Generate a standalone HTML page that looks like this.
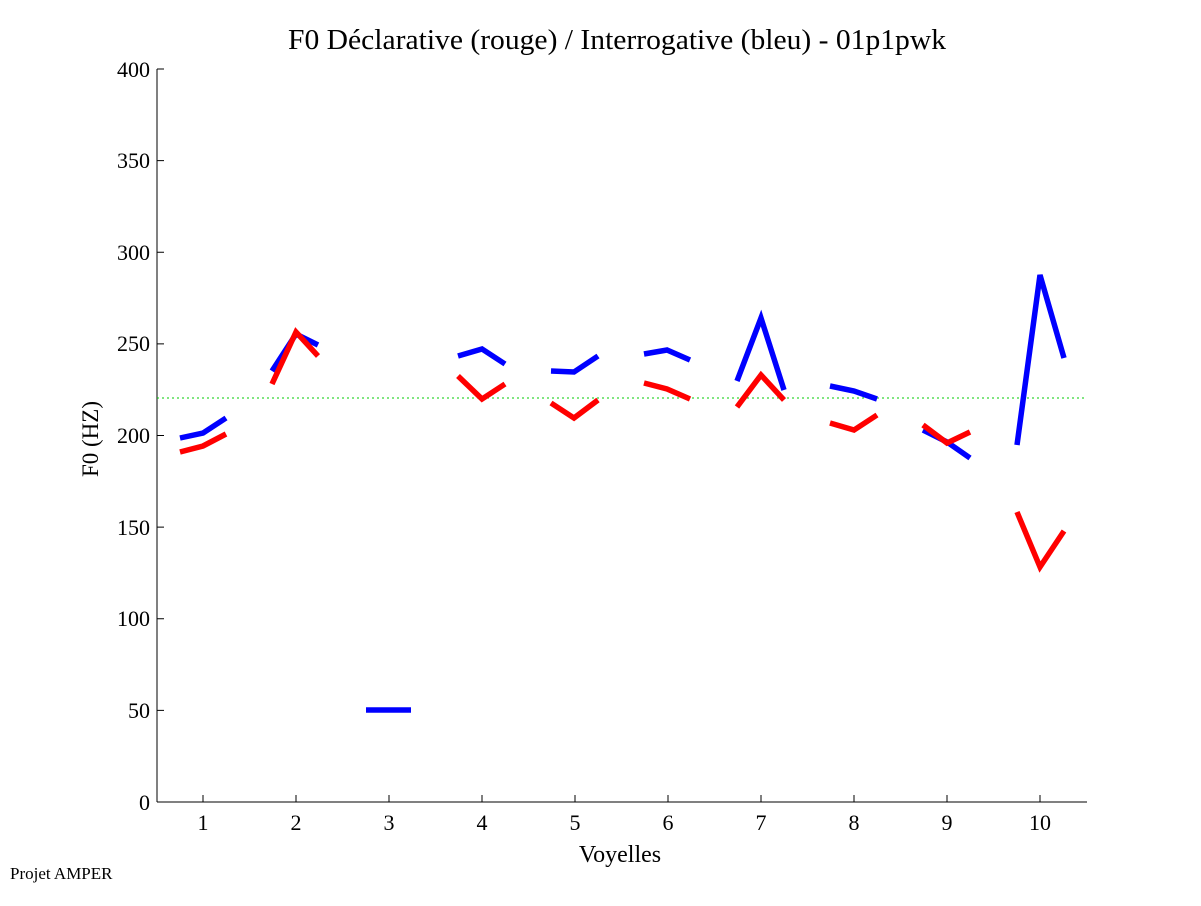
<!DOCTYPE html>
<html><head><meta charset="utf-8"><style>body{margin:0;background:#fff}</style></head><body>
<svg width="1201" height="901" xmlns="http://www.w3.org/2000/svg" font-family="Liberation Serif, serif">
<rect width="1201" height="901" fill="#fff"/>
<text x="617" y="49" font-size="28" text-anchor="middle" textLength="658" lengthAdjust="spacingAndGlyphs">F0 Déclarative (rouge) / Interrogative (bleu) - 01p1pwk</text>
<g stroke="#000" stroke-width="1" fill="none">
<line x1="157" y1="69" x2="157" y2="802"/>
<line x1="157" y1="802" x2="1087" y2="802"/>
<path d="M157 802h7M157 710.4h7M157 618.8h7M157 527.1h7M157 435.5h7M157 343.9h7M157 252.3h7M157 160.6h7M157 69h7"/>
<path d="M203 802v-7M296 802v-7M389 802v-7M482 802v-7M575 802v-7M668 802v-7M761 802v-7M854 802v-7M947 802v-7M1040 802v-7"/>
</g>
<g font-size="22" text-anchor="end">
<text x="150" y="810">0</text><text x="150" y="718">50</text><text x="150" y="626">100</text><text x="150" y="535">150</text><text x="150" y="443">200</text><text x="150" y="351">250</text><text x="150" y="260">300</text><text x="150" y="168">350</text><text x="150" y="77">400</text>
</g>
<g font-size="22" text-anchor="middle">
<text x="203" y="830">1</text><text x="296" y="830">2</text><text x="389" y="830">3</text><text x="482" y="830">4</text><text x="575" y="830">5</text><text x="668" y="830">6</text><text x="761" y="830">7</text><text x="854" y="830">8</text><text x="947" y="830">9</text><text x="1040" y="830">10</text>
<text x="620" y="862" font-size="24">Voyelles</text>
<text transform="translate(98,439) rotate(-90)" font-size="23">F0 (HZ)</text>
</g>
<text x="10" y="879" font-size="17">Projet AMPER</text>
<line x1="157" y1="398" x2="1087" y2="398" stroke="#0c0" stroke-width="1" stroke-dasharray="2,3"/>
<g fill="none" stroke="#00f" stroke-width="5.5">
<polyline points="180,438 203,433 226,418"/>
<polyline points="272,371 296,334 318,345"/>
<polyline points="366,710 411,710"/>
<polyline points="458,356 482,349 505,364"/>
<polyline points="551,371 574,372 598,356"/>
<polyline points="644,354 667,350 690,360"/>
<polyline points="737,381 761,318 784,390"/>
<polyline points="830,386 854,391 877,399"/>
<polyline points="923,430 947,442 970,458"/>
<polyline points="1017,445 1040,275 1064,358"/>
</g>
<g fill="none" stroke="#f00" stroke-width="5.5">
<polyline points="180,452 203,446 226,434"/>
<polyline points="272,384 296,332 318,356"/>
<polyline points="458,376 482,399 505,384"/>
<polyline points="551,403 574,418 598,400"/>
<polyline points="644,383 667,389 690,399"/>
<polyline points="737,407 761,375 784,400"/>
<polyline points="830,423 854,430 877,415"/>
<polyline points="923,425 947,443 970,432"/>
<polyline points="1017,512 1040,567 1064,531"/>
</g>
</svg>
</body></html>
